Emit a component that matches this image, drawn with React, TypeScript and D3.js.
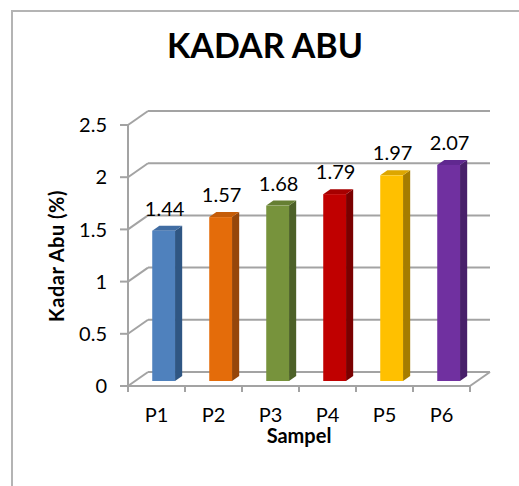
import * as d3 from "d3";

const categories = ["P1", "P2", "P3", "P4", "P5", "P6"];
const values = [1.44, 1.57, 1.68, 1.79, 1.97, 2.07];
const frontColors = ["#4F81BD", "#E46C0A", "#77933C", "#C00000", "#FFC000", "#7030A0"];
const sideColors = ["#2F5683", "#96460A", "#4D6128", "#7A0000", "#A67C00", "#48206A"];
const topColors = ["#416DA3", "#C55C08", "#667F33", "#A60000", "#DDA600", "#602890"];
const yTicks = [0, 0.5, 1, 1.5, 2, 2.5];

const W = 519;
const H = 486;
const DX = 20; // depth offset of back wall
const DY = 14;
const BAR_F = 0.357; // bar front face depth
const BAR_D = 0.357; // bar depth

const font = "Lato, 'Open Sans', sans-serif";
const grid = "#a3a3a3";

export default function App() {
  const x = d3.scaleBand<string>().domain(categories).range([128, 470]);
  const y = d3.scaleLinear().domain([0, 2.5]).range([386, 125]);
  const bw = x.bandwidth() * 0.4;

  return (
    <svg width={W} height={H} style={{ position: "absolute", left: 0, top: 0, background: "#fff" }}>
      {/* outer frame */}
      <path d={`M12,${H} L12,11 L${W},11`} fill="none" stroke="#b4b4b4" strokeWidth={2} />

      <text x={265} y={58} textAnchor="middle" fontFamily={font} fontWeight="bold" fontSize={34} fill="#000">
        KADAR ABU
      </text>

      {/* gridlines on back wall with diagonal connectors */}
      {yTicks.map((t) => (
        <g key={t}>
          <line x1={128} y1={y(t)} x2={128 + DX} y2={y(t) - DY} stroke={grid} strokeWidth={2} />
          <line x1={128 + DX} y1={y(t) - DY} x2={470 + DX} y2={y(t) - DY} stroke={grid} strokeWidth={2} />
          <line x1={120} y1={y(t)} x2={128} y2={y(t)} stroke={grid} strokeWidth={2} />
          <text x={107} y={y(t)} dy="0.36em" textAnchor="end" fontFamily={font} fontSize={20} fill="#000">
            {t}
          </text>
        </g>
      ))}

      {/* floor front edge and right side */}
      <line x1={128} y1={y(0)} x2={470} y2={y(0)} stroke={grid} strokeWidth={2} />
      <line x1={470} y1={y(0)} x2={470 + DX} y2={y(0) - DY} stroke={grid} strokeWidth={2} />
      <line x1={128} y1={y(2.5)} x2={128} y2={y(0) + 6} stroke={grid} strokeWidth={2} />
      {[...categories.map((c) => x(c) as number), 470].map((px, i) => (
        <line key={i} x1={px} y1={y(0)} x2={px} y2={y(0) + 6} stroke={grid} strokeWidth={2} />
      ))}

      {/* bars */}
      {categories.map((c, i) => {
        const ox = DX * BAR_F;
        const oy = DY * BAR_F;
        const dx = DX * BAR_D;
        const dy = DY * BAR_D;
        const x0 = (x(c) as number) + (x.bandwidth() - bw) / 2 + ox;
        const x1 = x0 + bw;
        const yb = y(0) - oy;
        const yt = y(values[i]) - oy;
        return (
          <g key={c}>
            <path d={`M${x1},${yb} L${x1 + dx},${yb - dy} L${x1 + dx},${yt - dy} L${x1},${yt} Z`} fill={sideColors[i]} />
            <path d={`M${x0},${yt} L${x1},${yt} L${x1 + dx},${yt - dy} L${x0 + dx},${yt - dy} Z`} fill={topColors[i]} />
            <rect x={x0} y={yt} width={bw} height={yb - yt} fill={frontColors[i]} />
            <text x={x0 + bw / 2 + 1} y={yt - dy - 10} textAnchor="middle" fontFamily={font} fontSize={20} fill="#000">
              {values[i].toFixed(2)}
            </text>
          </g>
        );
      })}

      {/* category labels */}
      {categories.map((c) => (
        <text key={c} x={(x(c) as number) + x.bandwidth() / 2} y={422} textAnchor="middle" fontFamily={font} fontSize={20} fill="#000">
          {c}
        </text>
      ))}

      <text x={299} y={443} textAnchor="middle" fontFamily={font} fontWeight="bold" fontSize={20} fill="#000">
        Sampel
      </text>
      <text transform="translate(64,256) rotate(-90)" textAnchor="middle" fontFamily={font} fontWeight="bold" fontSize={20} fill="#000" letterSpacing={0.5}>
        Kadar Abu (%)
      </text>
    </svg>
  );
}
